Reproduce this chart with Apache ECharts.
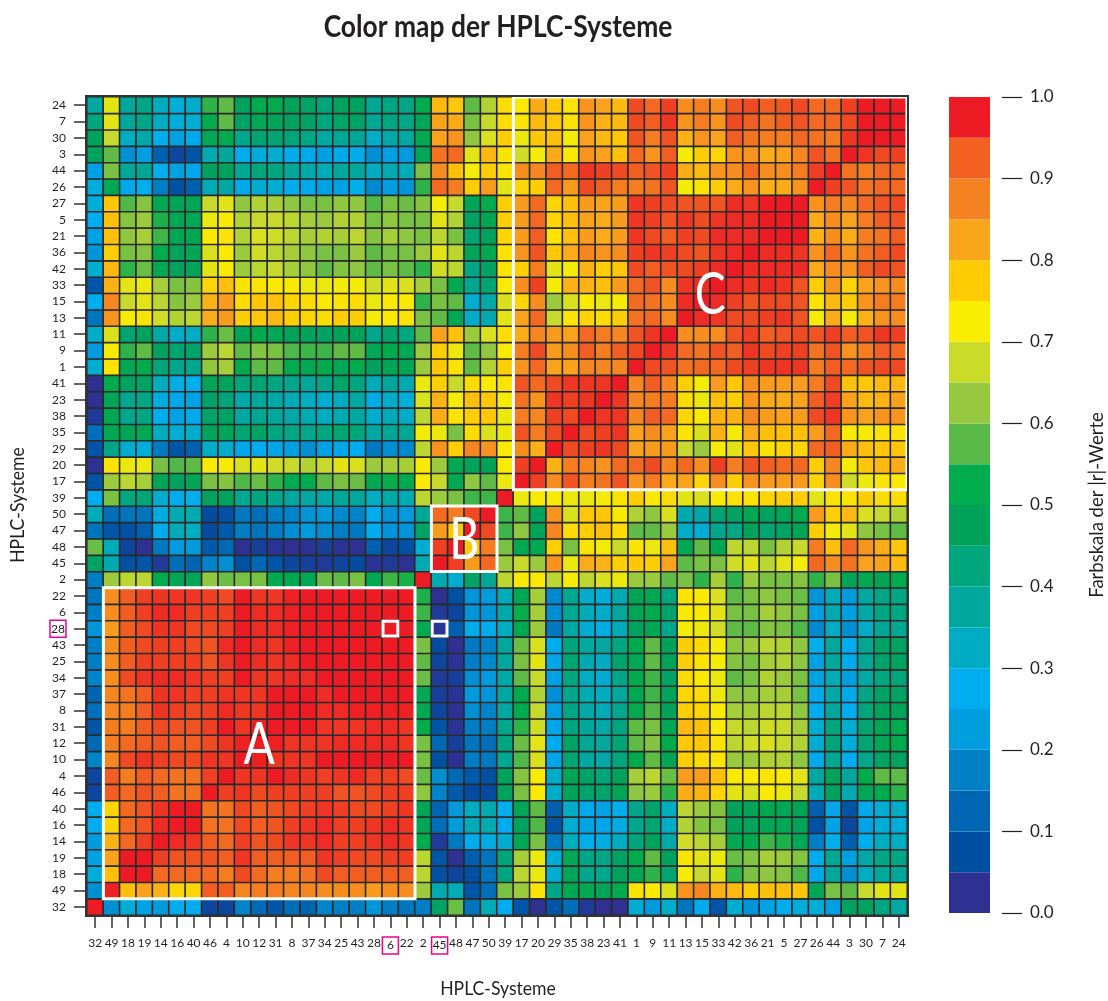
<!DOCTYPE html>
<html>
<head>
<meta charset="utf-8">
<script src="https://cdn.jsdelivr.net/npm/echarts@6/dist/echarts.min.js"></script>
<style>html,body{margin:0;padding:0;background:#fff}#c{width:1108px;height:1001px}</style>
</head>
<body>
<div id="c"></div>
<script>
// HPLC system order, bottom-to-top on y and left-to-right on x
const systems = ['32','49','18','19','14','16','40','46','4','10','12','31','8','37','34','25','43','28','6','22','2','45','48','47','50','39','17','20','29','35','38','23','41','1','9','11','13','15','33','42','36','21','5','27','26','44','3','30','7','24'];

// |r| x 100, one symmetric half of the matrix: each row lists columns from the first system up to the diagonal
const row_24 = [37,70,38,41,33,30,32,55,58,47,52,52,48,46,43,47,47,39,42,41,52,80,78,58,65,75,73,82,78,74,85,83,80,93,90,94,86,88,86,92,93,91,92,93,90,90,94,98,98,98];
const row_7 = [42,70,38,41,33,30,31,52,58,46,50,49,47,46,42,45,46,39,42,41,49,83,82,60,67,75,74,80,78,74,85,81,80,93,91,95,85,88,85,93,91,89,91,92,90,90,93,98,98];
const row_30 = [47,67,33,36,28,24,26,50,52,40,44,44,43,41,37,39,39,32,36,37,51,83,85,62,69,77,71,78,79,72,83,80,78,92,88,92,81,85,83,91,89,88,88,90,89,88,95,98];
const row_3 = [47,58,20,23,11,6,9,35,38,27,30,31,27,26,23,26,27,20,23,22,49,89,90,70,80,74,68,72,82,73,85,83,79,90,85,91,72,77,76,85,85,82,83,87,92,89,98];
const row_44 = [23,60,38,39,28,24,25,47,48,39,43,42,38,36,34,38,38,33,35,34,60,86,79,72,77,74,86,87,91,90,95,94,93,91,92,94,82,80,85,86,90,86,86,88,94,98];
const row_26 = [30,50,26,27,17,8,11,34,37,26,31,31,27,26,24,24,28,19,23,21,55,90,88,77,84,70,76,77,90,84,93,91,88,88,89,92,72,74,77,82,85,81,82,85,98];
const row_27 = [30,78,57,61,50,48,49,67,70,62,65,64,62,60,60,62,62,57,60,59,61,72,67,49,52,77,84,90,76,79,84,83,84,95,94,93,92,92,92,96,95,98,98,98];
const row_5 = [27,79,61,63,54,50,50,71,73,65,67,67,66,64,63,65,65,60,62,60,60,70,65,46,49,77,84,90,76,79,83,82,84,95,94,92,95,93,95,96,96,98,98];
const row_21 = [24,79,62,64,56,50,51,73,74,65,69,68,66,64,65,64,66,61,64,62,60,66,60,44,47,76,84,91,74,79,84,82,84,95,93,91,94,93,96,96,96,98];
const row_36 = [21,77,60,61,52,48,49,69,73,63,68,66,64,62,60,60,63,58,60,60,63,70,66,48,51,74,85,92,78,82,87,85,86,94,95,94,93,92,95,96,98];
const row_42 = [31,80,55,59,51,47,48,70,73,63,66,67,64,62,58,61,62,58,60,58,55,68,66,41,46,74,77,88,70,72,81,77,78,93,91,92,93,94,96,98];
const row_33 = [9,81,70,71,64,60,61,76,79,74,74,73,73,71,71,72,72,68,70,69,64,60,51,40,44,73,86,94,72,81,81,79,84,90,92,86,95,96,98];
const row_15 = [27,87,67,70,66,61,63,81,84,75,78,79,76,75,73,74,75,71,73,73,55,60,58,31,36,69,76,86,63,69,73,71,72,90,89,86,96,98];
const row_13 = [15,85,72,74,68,65,66,82,84,77,78,80,77,76,75,77,77,72,73,74,60,58,50,32,35,70,83,90,67,74,76,75,77,89,90,86,98];
const row_11 = [32,69,44,47,36,32,33,55,59,49,52,50,48,47,46,48,48,40,45,42,58,83,79,63,69,75,82,87,84,83,90,88,87,92,95,98];
const row_9 = [22,73,55,58,47,44,45,63,66,58,61,60,57,56,56,58,58,50,52,50,63,77,71,58,62,73,88,93,84,86,91,88,91,93,98];
const row_1 = [31,74,50,52,43,40,40,62,64,52,58,58,52,51,52,50,52,47,49,49,63,78,74,58,65,77,85,90,83,83,87,87,87,98];
const row_41 = [1,52,47,46,33,29,28,49,48,43,44,42,40,38,41,45,42,34,38,35,71,77,67,75,73,74,92,90,93,95,95,95,98];
const row_23 = [2,49,40,41,29,25,24,45,43,36,38,36,34,33,31,33,37,29,32,30,69,81,72,79,78,72,89,85,95,94,95,98];
const row_38 = [4,51,40,41,28,24,26,45,46,37,39,38,36,35,33,35,37,31,34,32,66,82,74,77,78,71,88,87,94,93,98];
const row_35 = [14,51,49,50,33,31,32,48,49,44,46,42,41,40,42,44,43,37,39,39,72,71,60,75,69,71,92,88,93,98];
const row_29 = [9,41,31,30,16,9,11,32,32,25,27,25,23,20,24,25,27,16,20,19,66,85,77,87,85,73,86,81,98];
const row_20 = [1,74,71,71,60,57,58,73,73,69,70,68,67,65,67,70,69,63,64,64,73,63,51,48,48,73,94,98];
const row_17 = [9,63,66,64,50,47,49,60,61,57,59,55,52,52,58,60,59,51,53,51,73,67,51,62,58,71,98];
const row_39 = [27,60,42,43,31,27,28,47,47,39,42,40,37,37,36,38,38,33,36,34,66,63,60,56,56,98];
const row_50 = [34,14,15,15,29,35,35,7,8,16,14,17,18,21,22,19,18,27,21,22,39,90,88,93,98];
const row_47 = [15,9,8,11,27,34,33,7,10,17,15,17,20,22,20,17,16,27,21,21,46,84,78,98];
const row_48 = [59,34,6,2,16,22,22,10,13,2,5,3,0,3,5,3,2,11,6,8,31,94,98];
const row_45 = [46,35,8,9,4,14,12,18,20,8,13,9,6,5,4,6,7,3,4,2,35,98];
const row_2 = [17,63,66,66,52,49,49,62,59,60,60,52,51,50,59,58,60,51,56,54,98];
const row_22 = [15,86,91,94,95,95,95,94,93,98,95,95,97,98,98,98,98,98,98,98];
const row_6 = [17,86,91,94,96,96,94,94,94,98,96,96,97,98,98,98,98,98,98];
const row_28 = [21,84,91,93,95,95,93,93,94,98,96,96,97,98,98,98,98,98];
const row_43 = [17,86,91,93,94,94,93,92,96,98,96,95,97,98,98,98,98];
const row_25 = [17,86,91,94,94,94,94,92,95,98,96,95,96,98,98,98];
const row_34 = [18,86,93,95,96,96,95,94,94,98,95,95,96,96,98];
const row_37 = [12,87,89,91,95,95,94,94,95,95,95,98,98,98];
const row_8 = [14,87,88,91,95,94,93,94,96,95,95,98,98];
const row_31 = [9,88,88,91,93,92,92,94,98,95,97,98];
const row_12 = [13,88,90,91,92,91,91,93,95,97,98];
const row_10 = [18,87,93,95,94,93,93,95,95,98];
const row_4 = [6,91,88,91,90,89,89,94,98];
const row_46 = [6,91,90,92,91,89,89,98];
const row_40 = [27,76,90,92,95,98,98];
const row_16 = [27,76,90,92,96,98];
const row_14 = [22,81,90,94,98];
const row_19 = [24,83,98,98];
const row_18 = [30,79,98];
const row_49 = [20,97];
const row_32 = [98];
const halfRows = [row_32,row_49,row_18,row_19,row_14,row_16,row_40,row_46,row_4,row_10,row_12,row_31,row_8,row_37,row_34,row_25,row_43,row_28,row_6,row_22,row_2,row_45,row_48,row_47,row_50,row_39,row_17,row_20,row_29,row_35,row_38,row_23,row_41,row_1,row_9,row_11,row_13,row_15,row_33,row_42,row_36,row_21,row_5,row_27,row_26,row_44,row_3,row_30,row_7,row_24];

const paletteLowToHigh = ['#2E3192','#004EA2','#0066B3','#0081C6','#009DDF','#00AEEF','#00ACC3','#00A79D','#00A67C','#00A25A','#00AC4D','#59B947','#96C93F','#CBDB2A','#F9ED02','#FFCB05','#FAA61A','#F58220','#F26122','#ED1C24'];
const cellPaletteLowToHigh = ['#2E3192','#004EA2','#0066B3','#0081C6','#009DDF','#00AEEF','#00ACC3','#00A79D','#00A67C','#00A25A','#00AC4D','#59B947','#96C93F','#CBDB2A','#F9ED02','#FFCB05','#FAA61A','#F58220','#F04F23','#ED1C24'];
const colorbarStep = 0.05;
const highlightedLabels = {x:['6','45'], y:['28']};
const regions = [['49','22','A'],['45','50','B'],['17','24','C']];
const markedCells = [['6','28'],['45','28']];

const fontName = 'Lato,"Open Sans",sans-serif';
const inkColor = '#231F20';
const heat = [];
halfRows.forEach((vals,i)=>vals.forEach((v,j)=>{
  heat.push([j,i,v]);
  if(i!==j) heat.push([i,j,v]);
}));

function labelStyle(list){
  return {
    interval:0,color:inkColor,fontFamily:fontName,fontSize:12,
    formatter:v=>list.includes(v)?'{hl|'+v+'}':v,
    rich:{hl:{color:inkColor,fontFamily:fontName,fontSize:12,borderColor:'#EC008C',borderWidth:1.5,width:16,height:17,align:'center',verticalAlign:'middle',lineHeight:17}}
  };
}
const idx = l=>systems.indexOf(l);
const overlayItems = regions.map(r=>({kind:'region',a:idx(r[0]),b:idx(r[1]),text:r[2]}))
  .concat(markedCells.map(c=>({kind:'cell',c:idx(c[0]),r:idx(c[1])})))
  .concat([{kind:'frame'}]);

function renderOverlay(params,api){
  const it = overlayItems[params.dataIndex];
  const s = api.size([1,1]);
  if(it.kind==='cell'){
    const p = api.coord([it.c,it.r]);
    return {type:'rect',shape:{x:p[0]-s[0]/2+0.8,y:p[1]-s[1]/2+0.8,width:s[0]-1.6,height:s[1]-1.6},style:{fill:null,stroke:'#fff',lineWidth:3}};
  }
  const a = it.kind==='frame'?0:it.a, b = it.kind==='frame'?systems.length-1:it.b;
  const p0 = api.coord([a,a]), p1 = api.coord([b,b]);
  const x = p0[0]-s[0]/2, y = p1[1]-s[1]/2, w = p1[0]-p0[0]+s[0], h = p0[1]-p1[1]+s[1];
  if(it.kind==='frame'){
    return {type:'rect',shape:{x:x-1,y:y-1,width:w+2,height:h+2},style:{fill:null,stroke:'#333',lineWidth:2}};
  }
  return {type:'group',children:[
    {type:'rect',shape:{x,y,width:w,height:h},style:{fill:null,stroke:'#fff',lineWidth:3}},
    {type:'text',x:x+w/2,y:y+h/2+2,scaleX:0.8,style:{x:0,y:0,text:it.text,fill:'#fff',font:'58px '+fontName,align:'center',verticalAlign:'middle'}}
  ]};
}

const series = [
  {type:'heatmap',xAxisIndex:0,yAxisIndex:0,data:heat,silent:true,z:2,progressive:0,
   itemStyle:{borderColor:'#2a2a2a',borderWidth:1.6}},
  {type:'custom',xAxisIndex:0,yAxisIndex:0,data:overlayItems.map((_,i)=>[i,i]),renderItem:renderOverlay,clip:false,silent:true,z:5}
];
paletteLowToHigh.forEach(c=>series.push({type:'bar',xAxisIndex:1,yAxisIndex:1,stack:'bar',data:[colorbarStep],barWidth:'100%',silent:true,itemStyle:{color:c}}));

const chart = echarts.init(document.getElementById('c'),null,{renderer:'canvas'});
chart.setOption({
  animation:false,
  backgroundColor:'#fff',
  graphic:[
    {type:'text',x:498,y:27,scaleX:0.88,silent:true,style:{text:'Color map der HPLC-Systeme',font:'bold 30px '+fontName,fill:inkColor,align:'center',verticalAlign:'middle'}},
    {type:'text',x:498,y:989,scaleX:0.88,silent:true,style:{text:'HPLC-Systeme',font:'20px '+fontName,fill:inkColor,align:'center',verticalAlign:'middle'}},
    {type:'text',x:18,y:505,rotation:Math.PI/2,scaleX:0.88,silent:true,style:{text:'HPLC-Systeme',font:'20px '+fontName,fill:inkColor,align:'center',verticalAlign:'middle'}},
    {type:'text',x:1097,y:505,rotation:Math.PI/2,scaleX:0.925,silent:true,style:{text:'Farbskala der |r|-Werte',font:'20px '+fontName,fill:inkColor,align:'center',verticalAlign:'middle'}}
  ],
  visualMap:{type:'continuous',show:false,seriesIndex:0,dimension:2,min:2.5,max:97.5,inRange:{color:cellPaletteLowToHigh}},
  grid:[
    {left:87,top:97,width:820,height:818,containLabel:false,outerBoundsMode:'none'},
    {left:949,top:97,width:41,height:816,containLabel:false,outerBoundsMode:'none'}
  ],
  xAxis:[
    {type:'category',gridIndex:0,data:systems,position:'bottom',
     axisLine:{show:true,lineStyle:{color:'#333',width:2}},
     axisTick:{show:true,alignWithLabel:true,length:13,lineStyle:{color:'#333',width:1.5}},
     axisLabel:Object.assign(labelStyle(highlightedLabels.x),{margin:22}),splitLine:{show:false},splitArea:{show:false}},
    {type:'category',gridIndex:1,data:[''],show:false}
  ],
  yAxis:[
    {type:'category',gridIndex:0,data:systems,position:'left',
     axisLine:{show:true,lineStyle:{color:'#333',width:2}},
     axisTick:{show:true,alignWithLabel:true,length:13,lineStyle:{color:'#333',width:1.5}},
     axisLabel:Object.assign(labelStyle(highlightedLabels.y),{margin:21}),splitLine:{show:false},splitArea:{show:false}},
    {type:'value',gridIndex:1,min:0,max:1,interval:0.1,position:'right',offset:12,
     axisLine:{show:false},
     axisTick:{show:true,length:20,lineStyle:{color:inkColor,width:1.2}},
     axisLabel:{margin:28,color:inkColor,fontFamily:fontName,fontSize:17,formatter:v=>v.toFixed(1)},
     splitLine:{show:false}}
  ],
  series
});
</script>
</body>
</html>
